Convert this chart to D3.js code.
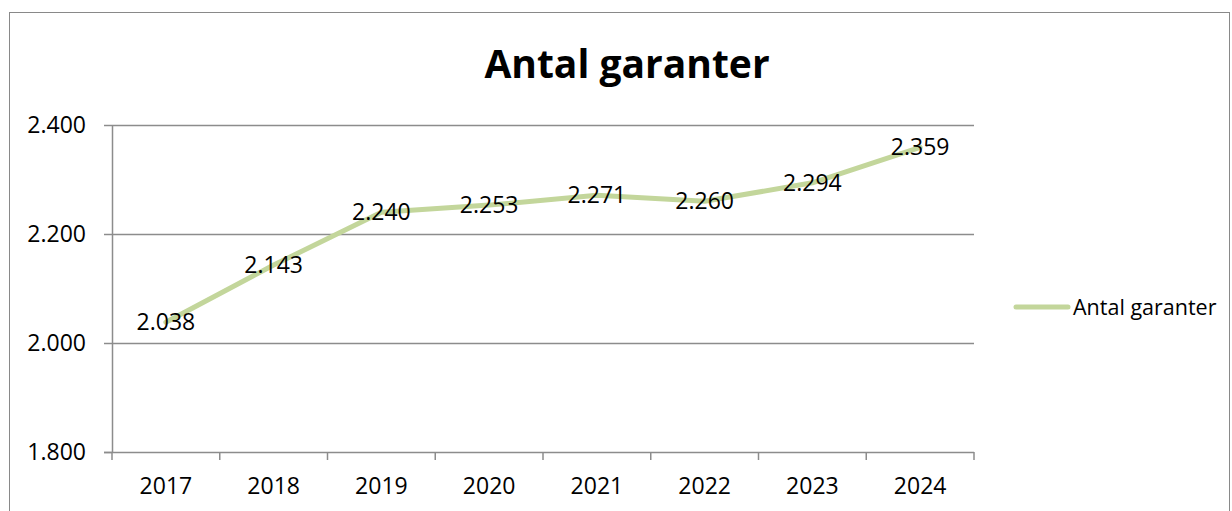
<!DOCTYPE html>
<html>
<head>
<meta charset="utf-8">
<script src="https://cdn.jsdelivr.net/npm/d3@7"></script>
<style>
  body { margin: 0; background: #fff; }
  text { font-family: "Open Sans", "Noto Sans", sans-serif; }
</style>
</head>
<body>
<script>
const years = ['2017', '2018', '2019', '2020', '2021', '2022', '2023', '2024'];
const garanter = [2038, 2143, 2240, 2253, 2271, 2260, 2294, 2359];
const yTicks = [1800, 2000, 2200, 2400];
const seriesName = 'Antal garanter';

const W = 1232, H = 511;
const plot = {left: 112, right: 974, top: 125, bottom: 452};
const lineColor = '#c3d69b';
const fmt = v => d3.format(',')(v).replace(',', '.');

const svg = d3.select('body')
    .append('svg')
    .attr('width', W)
    .attr('height', H);

// chart border
svg.append('rect')
    .attr('x', 9.5)
    .attr('y', 12.5)
    .attr('width', 1220)
    .attr('height', 510)
    .attr('fill', 'none')
    .attr('stroke', '#898989')
    .attr('stroke-width', 1);

const x = d3.scaleBand()
    .domain(years)
    .range([plot.left, plot.right]);

const y = d3.scaleLinear()
    .domain([1800, 2400])
    .range([plot.bottom, plot.top]);

// gridlines
svg.append('g')
    .selectAll('line')
    .data(yTicks.slice(1))
    .enter()
    .append('line')
    .attr('x1', plot.left)
    .attr('x2', plot.right)
    .attr('y1', d => Math.round(y(d)) + 0.5)
    .attr('y2', d => Math.round(y(d)) + 0.5)
    .attr('stroke', '#8c8c8c')
    .attr('stroke-width', 1.5);

// y axis
const yAxis = svg.append('g')
    .attr('transform', `translate(${plot.left},0)`)
    .call(d3.axisLeft(y).tickValues(yTicks).tickFormat(fmt).tickSize(8).tickPadding(18));
yAxis.select('.domain').attr('stroke', '#8c8c8c').attr('stroke-width', 1.5)
    .attr('d', `M0.5,${plot.top}V${plot.bottom}`);
yAxis.selectAll('.tick line').attr('stroke', '#8c8c8c').attr('stroke-width', 1.5);
yAxis.selectAll('.tick text').attr('font-size', 23).attr('fill', '#000')
    .attr('font-family', '"Open Sans", sans-serif');

// x axis
const xAxis = svg.append('g')
    .attr('transform', `translate(0,${plot.bottom})`)
    .call(d3.axisBottom(x).tickSize(0).tickPadding(26));
xAxis.select('.domain').remove();
xAxis.selectAll('.tick text').attr('font-size', 23).attr('fill', '#000')
    .attr('font-family', '"Open Sans", sans-serif');
svg.append('line')
    .attr('x1', plot.left - 8)
    .attr('x2', plot.right)
    .attr('y1', plot.bottom + 0.5)
    .attr('y2', plot.bottom + 0.5)
    .attr('stroke', '#8c8c8c')
    .attr('stroke-width', 1.5);
svg.append('g')
    .selectAll('line')
    .data(years.map(d => x(d)).concat([plot.right]))
    .enter()
    .append('line')
    .attr('x1', d => d)
    .attr('x2', d => d)
    .attr('y1', plot.bottom)
    .attr('y2', plot.bottom + 8)
    .attr('stroke', '#8c8c8c')
    .attr('stroke-width', 1.5);

// line
const cx = d => x(d) + x.bandwidth() / 2;
svg.append('path')
    .datum(garanter)
    .attr('fill', 'none')
    .attr('stroke', lineColor)
    .attr('stroke-width', 5)
    .attr('stroke-linejoin', 'round')
    .attr('stroke-linecap', 'round')
    .attr('d', d3.line().x((d, i) => cx(years[i])).y(d => y(d)));

// data labels
svg.append('g')
    .selectAll('text')
    .data(garanter)
    .enter()
    .append('text')
    .attr('x', (d, i) => cx(years[i]))
    .attr('y', d => y(d))
    .attr('dy', '0.35em')
    .attr('text-anchor', 'middle')
    .attr('font-size', 23)
    .attr('fill', '#000')
    .text(fmt);

// title
svg.append('text')
    .attr('x', 627)
    .attr('y', 78)
    .attr('text-anchor', 'middle')
    .attr('font-size', 39)
    .attr('font-weight', 'bold')
    .attr('fill', '#000')
    .text(seriesName);

// legend
const legend = svg.append('g').attr('transform', 'translate(1016,307)');
legend.append('line')
    .attr('x1', 0)
    .attr('x2', 52)
    .attr('stroke', lineColor)
    .attr('stroke-width', 5)
    .attr('stroke-linecap', 'round');
legend.append('text')
    .attr('x', 57)
    .attr('dy', '0.35em')
    .attr('font-size', 21.5)
    .attr('fill', '#000')
    .text(seriesName);
</script>
</body>
</html>
